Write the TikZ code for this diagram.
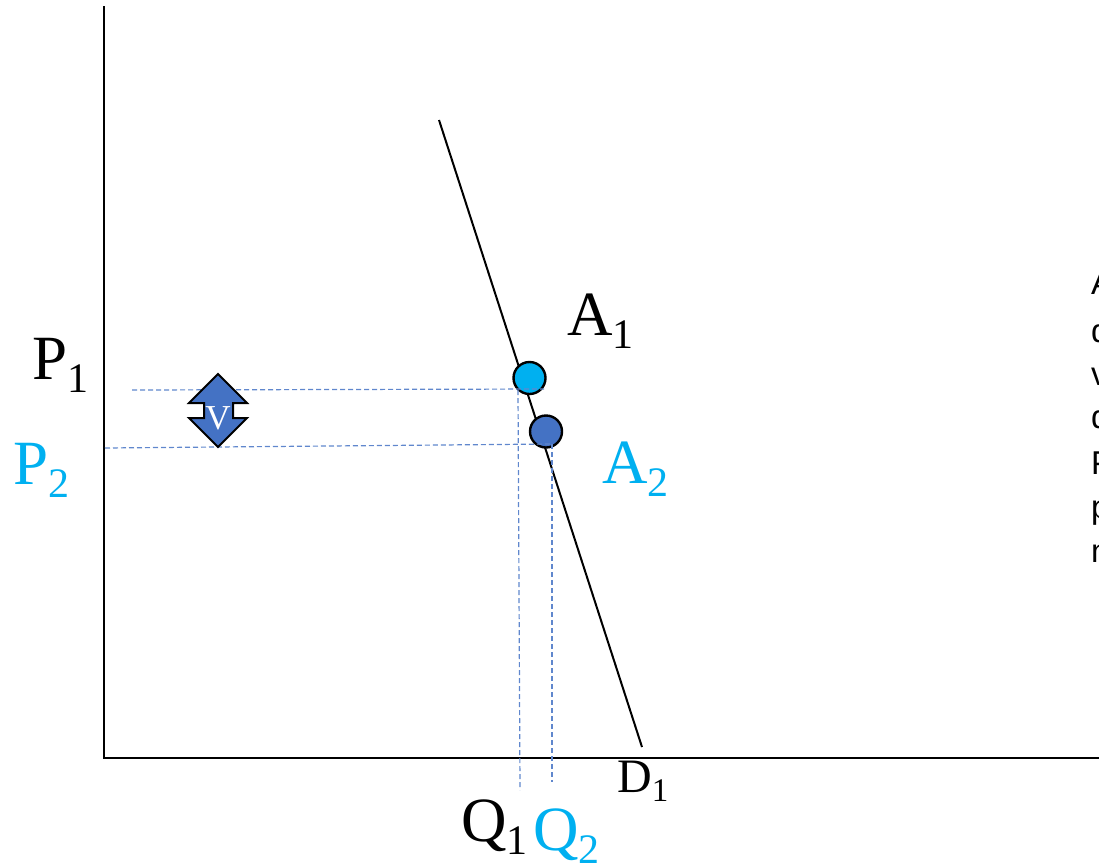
\documentclass[tikz,border=0pt]{standalone}
\usepackage{fontspec}
\setmainfont{Liberation Serif}
\newfontfamily\rsans{Liberation Sans}
\definecolor{skyb}{HTML}{00B0F0}
\definecolor{midb}{HTML}{4472C4}
\tikzset{
  axisline/.style={draw=black,line width=1.9pt},
  demand/.style={draw=black,line width=2pt},
  guide/.style={draw=midb!85!white,line width=1.2pt,dash pattern=on 5pt off 3pt},
  dot/.style={circle,draw=black,line width=2.4pt,minimum size=32pt,inner sep=0pt},
  biglabel/.style={inner sep=0pt,anchor=base west,font=\fontsize{63}{63}\selectfont},
  sidetext/.style={inner sep=0pt,anchor=base west,font=\rsans\fontsize{33}{33}\selectfont}
}
\newcommand{\lbl}[2]{#1\raisebox{-13pt}{\fontsize{42}{42}\selectfont #2}}
\begin{document}
\begin{tikzpicture}[x=1pt,y=-1pt]
\useasboundingbox (0,0) rectangle (1099,865);
\clip (0,0) rectangle (1099,865);
\coordinate (ytop) at (104,6);
\coordinate (orig) at (104,758);
\coordinate (xend) at (1099,758);
\coordinate (dtop) at (439,120);
\coordinate (dbot) at (642,747);
\coordinate (p1l) at (132,390);
\coordinate (p1r) at (544,389);
\coordinate (p2l) at (105,448);
\coordinate (p2r) at (552,444);
\coordinate (q1t) at (518,390);
\coordinate (q1b) at (520,790);
\coordinate (q2t) at (552,444);
\coordinate (q2b) at (552,782);
\draw[axisline] (ytop) -- (orig) -- (xend);
\draw[demand] (dtop) -- (dbot);
\node[dot,fill=skyb] (a1) at (529.5,378) {};
\node[dot,fill=midb] (a2) at (546,431.5) {};
\draw[guide] (p1l) -- (p1r);
\draw[guide] (p2l) -- (p2r);
\draw[guide] (q1t) -- (q1b);
\draw[guide] (q2t) -- (q2b);
\draw[draw=black,fill=midb,line width=2pt,line join=miter]
  (218,374) -- (247,403) -- (233,403) -- (233,418) -- (247,418) -- (218,447)
  -- (189,418) -- (204,418) -- (204,403) -- (189,403) -- cycle;
\node[inner sep=0pt,anchor=base,text=white,font=\fontsize{35}{35}\selectfont] (v) at (218,429) {V};
\node[biglabel] (lp1) at (32,379) {\lbl{P}{1}};
\node[biglabel,text=skyb] (lp2) at (13,484) {\lbl{P}{2}};
\node[biglabel] (la1) at (567,335) {\lbl{A}{1}};
\node[biglabel,text=skyb] (la2) at (602,483) {\lbl{A}{2}};
\node[biglabel] (lq1) at (461,841) {\lbl{Q}{1}};
\node[biglabel,text=skyb] (lq2) at (533,850) {\lbl{Q}{2}};
\node[inner sep=0pt,anchor=base west,font=\fontsize{48}{48}\selectfont] (ld1) at (617,792) {D\raisebox{-9pt}{\fontsize{33}{33}\selectfont 1}};
\node[sidetext] (s1) at (1091,294) {A};
\node[sidetext] (s2) at (1091,342) {d};
\node[sidetext] (s3) at (1091,385) {v};
\node[sidetext] (s4) at (1091,428) {d};
\node[sidetext] (s5) at (1091,474) {P};
\node[sidetext] (s6) at (1091,518) {p};
\node[sidetext] (s7) at (1091,562) {n};
\end{tikzpicture}
\end{document}
